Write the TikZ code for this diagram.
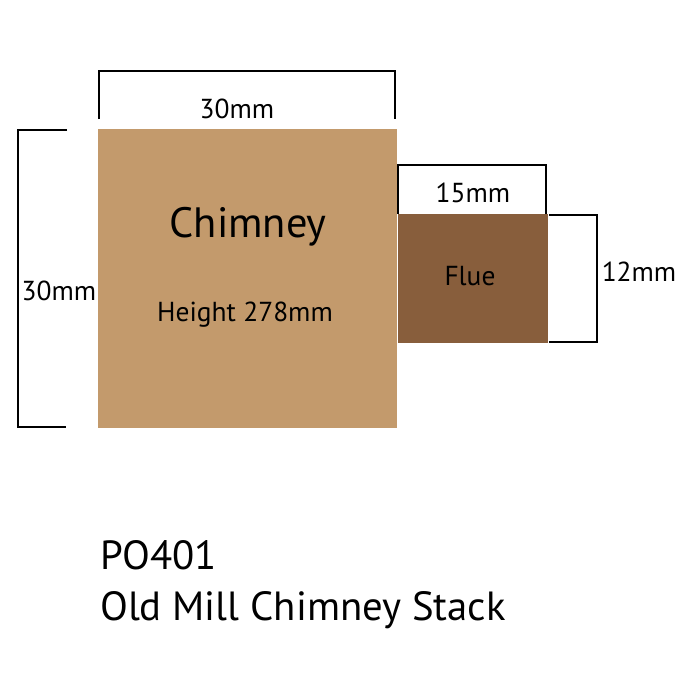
\documentclass[tikz,border=0pt]{standalone}
\usepackage{fontspec}
\setmainfont{PT Sans}
\definecolor{chimneycol}{RGB}{195,154,108}
\definecolor{fluecol}{RGB}{136,94,60}
\tikzset{
	bracket/.style={line width=1.5pt, black},
	dimlabel/.style={inner sep=0pt, font=\fontsize{27.5}{30}\selectfont},
	titlelabel/.style={inner sep=0pt, anchor=base west, font=\fontsize{40.8}{44}\selectfont}
}
\begin{document}
\begin{tikzpicture}[x=0.0352cm, y=-0.0352cm]
		\useasboundingbox (0,0) rectangle (700,700);
		\fill[white] (0,0) rectangle (700,700);
		\node[fill=chimneycol, minimum width=299*0.0352cm, minimum height=299*0.0352cm, inner sep=0pt] (chimney) at (247.5,278.5) {};
		\node[fill=fluecol, anchor=north west, minimum width=150*0.0352cm, minimum height=129*0.0352cm, inner sep=0pt] (flue) at (397.5,214) {};
		\node[font=\fontsize{42.5}{46}\selectfont, inner sep=0pt] (chimneytext) at (248,227) {Chimney};
		\node[dimlabel] (heighttext) at (245,315) {Height 278mm};
		\node[dimlabel] (fluetext) at (470,276) {Flue};
		\node[dimlabel] (topdim) at (237,109) {30mm};
		\node[dimlabel] (leftdim) at (59,291) {30mm};
		\node[dimlabel] (fluetopdim) at (473,193) {15mm};
		\node[dimlabel] (fluerightdim) at (639,272) {12mm};
		\coordinate (a1) at (99,119);
		\coordinate (a2) at (99,71);
		\coordinate (a3) at (395,71);
		\coordinate (a4) at (395,119);
		\draw[bracket] (a1) -- (a2) -- (a3) -- (a4);
		\coordinate (b1) at (67,130);
		\coordinate (b2) at (18,130);
		\coordinate (b3) at (18,427);
		\coordinate (b4) at (66,427);
		\draw[bracket] (b1) -- (b2) -- (b3) -- (b4);
		\coordinate (c1) at (398,214);
		\coordinate (c2) at (398,165);
		\coordinate (c3) at (546,165);
		\coordinate (c4) at (546,214);
		\draw[bracket] (c1) -- (c2) -- (c3) -- (c4);
		\coordinate (d1) at (549,215);
		\coordinate (d2) at (597,215);
		\coordinate (d3) at (597,342);
		\coordinate (d4) at (549,342);
		\draw[bracket] (d1) -- (d2) -- (d3) -- (d4);
		\node[titlelabel] (code) at (100,569) {PO401};
		\node[titlelabel] (name) at (100,620) {Old Mill Chimney Stack};
\end{tikzpicture}
\end{document}
